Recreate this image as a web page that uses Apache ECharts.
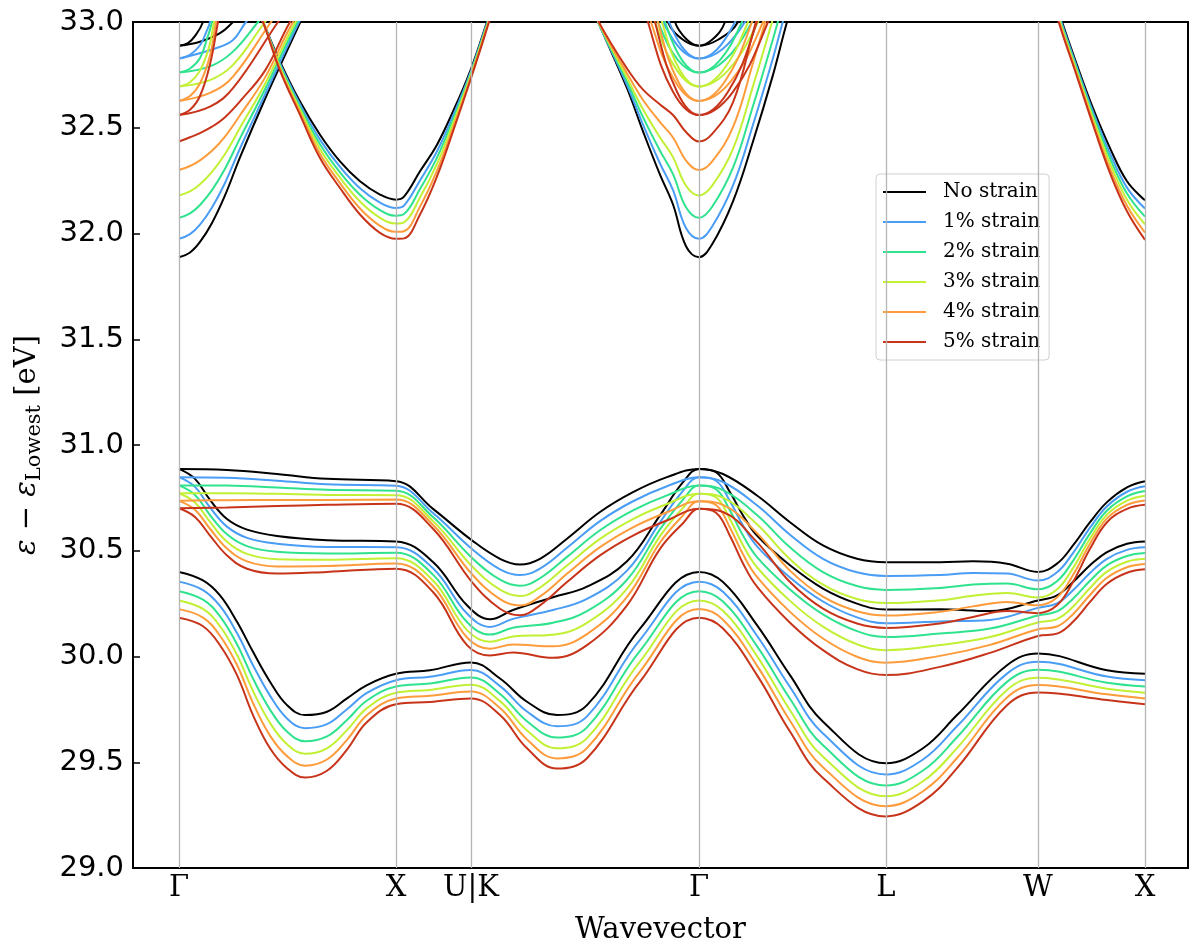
<!DOCTYPE html>
<html>
<head>
<meta charset="utf-8">
<script src="https://cdn.jsdelivr.net/npm/echarts@6/dist/echarts.min.js"></script>
<style>
html,body{margin:0;padding:0;background:#fff;}
#chart{width:1190px;height:950px;}
</style>
</head>
<body>
<div id="chart"></div>
<script>
// ---- labels / categories ----
const strainNames = ['No strain','1% strain','2% strain','3% strain','4% strain','5% strain'];
const strainColors = ['#000000','#4a9df5','#2fe38e','#c2f034','#fe9b3a','#c8341a'];
const tickNames = ['Γ','X','U|K','Γ','L','W','X'];
const tickPos = [0,217,292,520,707,859,966];   // path distance of high-symmetry points

// ---- valence band 1 (lowest) ----
const kB1 = [0,24,41,58,74,91,108,126,148,168,188,217,251,292,321,348,378,408,461,520,544,578,611,644,707,744,778,828,859,928,966];
const band1 = [
 [30.400,30.360,30.289,30.164,30.022,29.881,29.770,29.723,29.739,29.802,29.865,29.918,29.935,29.972,29.896,29.786,29.723,29.770,30.132,30.400,30.352,30.148,29.912,29.692,29.495,29.566,29.723,29.959,30.014,29.935,29.918],
 [30.354,30.314,30.239,30.111,29.959,29.815,29.707,29.661,29.680,29.751,29.828,29.888,29.904,29.936,29.860,29.740,29.670,29.717,30.079,30.354,30.306,30.098,29.856,29.636,29.442,29.513,29.670,29.919,29.975,29.905,29.888],
 [30.309,30.269,30.190,30.058,29.896,29.749,29.645,29.599,29.622,29.700,29.792,29.858,29.872,29.901,29.823,29.694,29.617,29.665,30.027,30.309,30.260,30.049,29.800,29.580,29.390,29.461,29.618,29.880,29.937,29.876,29.858],
 [30.265,30.225,30.143,30.008,29.837,29.686,29.585,29.540,29.566,29.652,29.756,29.829,29.842,29.867,29.789,29.650,29.566,29.614,29.976,30.265,30.216,30.002,29.746,29.526,29.339,29.410,29.567,29.842,29.900,29.848,29.829],
 [30.224,30.184,30.098,29.960,29.780,29.626,29.529,29.484,29.513,29.606,29.723,29.801,29.814,29.834,29.756,29.608,29.518,29.567,29.929,30.224,30.174,29.957,29.696,29.476,29.292,29.363,29.520,29.806,29.865,29.821,29.801],
 [30.183,30.143,30.053,29.912,29.723,29.566,29.472,29.428,29.460,29.560,29.690,29.774,29.785,29.802,29.723,29.566,29.470,29.519,29.881,30.183,30.132,29.912,29.645,29.425,29.244,29.315,29.472,29.770,29.830,29.794,29.774]
];

// ---- valence band 2 ----
const kB2 = [0,16,31,48,68,98,148,217,254,288,311,334,374,408,448,481,504,520,537,551,564,578,611,644,678,707,761,811,859,878,894,911,928,948,966];
const band2 = [
 [30.887,30.840,30.740,30.650,30.600,30.570,30.550,30.544,30.447,30.242,30.176,30.220,30.280,30.330,30.450,30.667,30.824,30.887,30.871,30.777,30.667,30.572,30.431,30.321,30.250,30.222,30.223,30.215,30.265,30.289,30.352,30.431,30.494,30.533,30.544],
 [30.848,30.802,30.705,30.614,30.561,30.533,30.518,30.517,30.417,30.203,30.140,30.178,30.220,30.272,30.406,30.634,30.783,30.847,30.831,30.734,30.619,30.521,30.374,30.260,30.185,30.157,30.166,30.173,30.230,30.251,30.313,30.395,30.462,30.504,30.516],
 [30.809,30.764,30.669,30.578,30.522,30.495,30.487,30.490,30.387,30.163,30.104,30.136,30.160,30.214,30.363,30.601,30.742,30.808,30.791,30.690,30.572,30.470,30.317,30.199,30.120,30.092,30.109,30.132,30.194,30.213,30.273,30.358,30.431,30.475,30.489],
 [30.772,30.728,30.636,30.543,30.485,30.460,30.457,30.464,30.359,30.125,30.070,30.095,30.103,30.159,30.321,30.569,30.703,30.770,30.753,30.649,30.526,30.422,30.263,30.141,30.058,30.030,30.054,30.092,30.161,30.177,30.235,30.324,30.401,30.448,30.462],
 [30.736,30.694,30.604,30.511,30.450,30.426,30.428,30.440,30.332,30.090,30.037,30.057,30.048,30.106,30.282,30.539,30.667,30.734,30.716,30.609,30.483,30.376,30.211,30.085,29.999,29.971,30.003,30.055,30.129,30.142,30.200,30.291,30.372,30.422,30.437],
 [30.701,30.660,30.572,30.478,30.415,30.392,30.400,30.415,30.305,30.054,30.005,30.019,29.994,30.054,30.242,30.509,30.630,30.698,30.680,30.570,30.440,30.330,30.160,30.030,29.940,29.912,29.951,30.017,30.097,30.108,30.164,30.258,30.344,30.396,30.412]
];

// ---- valence band 3 (highest) ----
const kB3 = [0,48,98,148,217,254,293,321,341,361,388,421,454,488,520,544,578,611,644,678,707,761,794,828,859,878,894,911,928,948,966];
const band3 = [
 [30.887,30.882,30.863,30.840,30.829,30.698,30.549,30.462,30.435,30.462,30.557,30.683,30.777,30.848,30.887,30.863,30.761,30.635,30.525,30.462,30.446,30.446,30.450,30.439,30.400,30.439,30.525,30.635,30.730,30.800,30.829],
 [30.848,30.845,30.831,30.814,30.807,30.678,30.508,30.412,30.385,30.416,30.514,30.640,30.734,30.805,30.847,30.825,30.715,30.576,30.462,30.398,30.381,30.385,30.395,30.392,30.359,30.398,30.489,30.609,30.710,30.779,30.805],
 [30.809,30.808,30.799,30.788,30.784,30.659,30.466,30.363,30.334,30.370,30.471,30.597,30.691,30.762,30.808,30.787,30.669,30.516,30.399,30.333,30.315,30.324,30.340,30.345,30.318,30.356,30.452,30.582,30.690,30.757,30.782],
 [30.772,30.772,30.769,30.764,30.763,30.640,30.427,30.316,30.286,30.326,30.430,30.556,30.650,30.721,30.770,30.751,30.625,30.460,30.340,30.272,30.253,30.266,30.287,30.300,30.279,30.317,30.418,30.557,30.671,30.737,30.760],
 [30.736,30.739,30.740,30.740,30.742,30.622,30.389,30.271,30.241,30.284,30.391,30.517,30.611,30.682,30.734,30.717,30.583,30.406,30.283,30.214,30.194,30.211,30.237,30.258,30.242,30.279,30.385,30.533,30.653,30.717,30.738],
 [30.701,30.705,30.711,30.717,30.722,30.604,30.352,30.226,30.195,30.242,30.352,30.478,30.572,30.643,30.698,30.683,30.541,30.352,30.226,30.156,30.135,30.156,30.187,30.215,30.205,30.242,30.352,30.509,30.635,30.698,30.717]
];

// ---- conduction: lowest band rising from first Γ ----
const kCA = [0,11,21,33,46,61,86,111,141];
const condA = [
 [31.888,31.910,31.960,32.050,32.180,32.360,32.636,32.894,33.200],
 [31.975,31.997,32.042,32.123,32.239,32.402,32.657,32.911,33.203],
 [32.074,32.095,32.135,32.205,32.306,32.450,32.682,32.930,33.207],
 [32.180,32.199,32.233,32.291,32.376,32.500,32.707,32.950,33.211],
 [32.300,32.319,32.346,32.391,32.458,32.559,32.737,32.974,33.215],
 [32.435,32.455,32.475,32.505,32.550,32.625,32.770,33.000,33.220]
];

// ---- conduction: upper (slow) branch at first Γ, [k, E] ----
const condB = [
 [[0,32.888],[21,32.907],[41,32.947],[54,33.0],[71,33.08]],
 [[0,32.827],[37,32.876],[54,32.915],[67,33.0],[86,33.1]],
 [[0,32.761],[31,32.79],[54,32.86],[79,33.0],[99,33.12]],
 [[0,32.695],[31,32.725],[54,32.797],[86,33.0],[106,33.12]],
 [[0,32.627],[31,32.665],[54,32.742],[92,33.0],[111,33.12]],
 [[0,32.56],[31,32.60],[54,32.687],[99,33.0],[116,33.11]]
];

// ---- conduction: upper (steep) branch at first Γ, [k, E] ----
const condC = [
 [[0,32.888],[9,32.90],[17,32.94],[24,33.0],[33,33.15]],
 [[0,32.827],[11,32.845],[21,32.89],[27,32.95],[31,33.0],[39,33.2]],
 [[0,32.761],[11,32.78],[21,32.83],[28,32.92],[33,33.0],[41,33.2]],
 [[0,32.695],[11,32.715],[21,32.77],[30,32.88],[35,33.0],[43,33.2]],
 [[0,32.627],[11,32.65],[21,32.71],[31,32.84],[37,33.0],[45,33.2]],
 [[0,32.56],[11,32.585],[21,32.65],[31,32.80],[39,33.0],[47,33.2]]
];

// ---- conduction: band with minimum at X (Γ–X–U) ----
const kCD = [71,84,101,121,141,161,181,201,217,225,241,258,274,291,308,321];
const condD = [
 [33.14,33.0,32.813,32.624,32.467,32.341,32.247,32.184,32.160,32.174,32.294,32.420,32.577,32.766,33.0,33.18],
 [33.14,33.0,32.804,32.611,32.444,32.315,32.214,32.146,32.121,32.132,32.251,32.389,32.557,32.756,32.994,33.18],
 [33.14,33.0,32.795,32.598,32.422,32.289,32.183,32.110,32.084,32.092,32.210,32.359,32.538,32.747,32.988,33.18],
 [33.14,33.0,32.787,32.586,32.400,32.264,32.151,32.074,32.047,32.053,32.170,32.329,32.520,32.738,32.982,33.18],
 [33.14,33.0,32.778,32.572,32.377,32.238,32.118,32.036,32.008,32.011,32.127,32.297,32.500,32.728,32.975,33.18],
 [33.14,33.0,32.770,32.561,32.357,32.215,32.090,32.003,31.975,31.977,32.090,32.270,32.483,32.720,32.970,33.18]
];

// ---- conduction: lowest band at second Γ ----
const kCE = [406,421,448,464,481,494,507,520,533,554,574,594,608,621];
const condE = [
 [33.15,32.98,32.687,32.483,32.278,32.137,31.940,31.888,31.948,32.152,32.435,32.750,33.0,33.2],
 [33.15,32.98,32.702,32.515,32.331,32.205,32.026,31.975,32.032,32.227,32.514,32.830,33.072,33.264],
 [33.15,32.98,32.719,32.550,32.391,32.281,32.124,32.074,32.125,32.311,32.603,32.920,33.153,33.336],
 [33.15,32.985,32.736,32.587,32.454,32.361,32.226,32.180,32.225,32.400,32.697,33.015,33.239,33.412],
 [33.15,32.985,32.757,32.631,32.527,32.454,32.345,32.300,32.340,32.503,32.806,33.125,33.338,33.5],
 [33.15,32.99,32.78,32.68,32.61,32.56,32.48,32.435,32.47,32.62,32.95,33.3,33.45,33.6]
];

// ---- conduction: degenerate upper pair at second Γ (two branches) ----
const condF1k = [
 [489,496,508,520,533,546,554],
 [481,490,505,520,538,556,567],
 [476,486,503,520,541,563,576],
 [472,483,501,520,544,569,584],
 [467,479,499,520,546,573,589],
 [463,476,498,520,549,578,595]
];
const condF2k = [
 [480,489,504,520,539,559,571],
 [473,484,502,520,543,566,580],
 [467,479,499,520,546,573,589],
 [463,476,498,520,549,579,597],
 [458,472,496,520,552,584,603],
 [454,469,494,520,554,589,610]
];
const condFv = [
 [33.19,33.0,32.916,32.888,32.916,33.0,33.19],
 [33.12,33.0,32.87,32.827,32.87,33.0,33.12],
 [33.165,33.0,32.82,32.761,32.82,33.0,33.165],
 [33.21,33.0,32.771,32.695,32.771,33.0,33.21],
 [33.26,33.0,32.72,32.627,32.72,33.0,33.26],
 [33.3,33.0,32.67,32.56,32.67,33.0,33.3]
];

// ---- conduction: band descending W → X ----
const kCG = [866,881,898,914,931,948,966];
const condG = [
 [33.26,33.03,32.797,32.593,32.404,32.247,32.157],
 [33.25,33.02,32.785,32.576,32.379,32.217,32.118],
 [33.24,33.01,32.774,32.561,32.356,32.189,32.080],
 [33.24,33.0,32.763,32.545,32.332,32.160,32.043],
 [33.23,32.99,32.752,32.528,32.307,32.131,32.004],
 [33.22,32.98,32.742,32.514,32.286,32.105,31.970]
];

// ---------- build series ----------
const series = [];
series.push({
  type:'line', name:'grid', data:[[0,29]], symbol:'none', silent:true, z:1,
  lineStyle:{opacity:0}, animation:false,
  markLine:{silent:true, symbol:['none','none'], label:{show:false}, animation:false,
    lineStyle:{color:'#b5b5b5', width:1.3, type:'solid'},
    data: tickPos.map(k => ({xAxis:k}))}
});
function mk(s, data){
  return {type:'line', name:strainNames[s], data:data, smooth:0.4, symbol:'none', showSymbol:false,
    clip:true, z:2, animation:false,
    lineStyle:{color:strainColors[s], width:2}, itemStyle:{color:strainColors[s]}};
}
function zipK(ks, vs){ return ks.map((k,i)=>[k, vs[i]]); }
for (let s=0; s<6; s++){
  series.push(mk(s, zipK(kB1, band1[s])));
  series.push(mk(s, zipK(kB2, band2[s])));
  series.push(mk(s, zipK(kB3, band3[s])));
  series.push(mk(s, zipK(kCA, condA[s])));
  series.push(mk(s, condB[s]));
  series.push(mk(s, condC[s]));
  series.push(mk(s, zipK(kCD, condD[s])));
  series.push(mk(s, zipK(kCE, condE[s])));
  series.push(mk(s, zipK(condF1k[s], condFv[s])));
  series.push(mk(s, zipK(condF2k[s], condFv[s])));
  series.push(mk(s, zipK(kCG, condG[s])));
}

const chart = echarts.init(document.getElementById('chart'), null, {renderer:'canvas'});
chart.setOption({
  animation:false,
  backgroundColor:'#ffffff',
  grid:{left:133, right:2, top:22, bottom:80, show:true, borderColor:'#000', borderWidth:2, backgroundColor:'transparent'},
  legend:{
    data:strainNames, orient:'vertical', left:876, top:174, icon:'rect',
    itemWidth:43, itemHeight:2, itemGap:10, padding:[8,9,8,7],
    backgroundColor:'rgba(255,255,255,0.85)', borderColor:'#d0d0d0', borderWidth:1, borderRadius:4,
    textStyle:{fontFamily:'DejaVu Serif', fontSize:20, color:'#000', lineHeight:20, padding:[0,0,0,12]}
  },
  xAxis:{
    type:'value', min:-46, max:1009,
    axisLine:{show:true, onZero:false, lineStyle:{color:'#000', width:2}},
    axisTick:{show:false}, splitLine:{show:false},
    axisLabel:{customValues:tickPos,
      formatter:function(v){ const i = tickPos.indexOf(v); return i>=0 ? tickNames[i] : ''; },
      fontFamily:'DejaVu Serif', fontSize:29, color:'#000', margin:6},
    name:'Wavevector', nameLocation:'middle', nameGap:48,
    nameTextStyle:{fontFamily:'DejaVu Serif', fontSize:29, color:'#000'}
  },
  yAxis:{
    type:'value', min:29, max:33, interval:0.5,
    axisLine:{show:true, onZero:false, lineStyle:{color:'#000', width:2}},
    axisTick:{show:true, inside:true, length:7, lineStyle:{color:'#000', width:1.5}},
    splitLine:{show:false},
    axisLabel:{formatter:function(v){ return v.toFixed(1); }, fontFamily:'DejaVu Sans', fontSize:29, color:'#000', margin:9},
    name:'{e|ε} − {e|ε}{s|Lowest} [eV]', nameLocation:'middle', nameGap:88, nameRotate:90,
    nameTextStyle:{fontFamily:'DejaVu Serif', fontSize:29, color:'#000', lineHeight:36,
      rich:{
        e:{fontFamily:'DejaVu Serif', fontStyle:'italic', fontSize:29, color:'#000', lineHeight:36},
        s:{fontFamily:'DejaVu Serif', fontSize:21, color:'#000', lineHeight:22, verticalAlign:'bottom'}
      }}
  },
  series:series
});
</script>
</body>
</html>
